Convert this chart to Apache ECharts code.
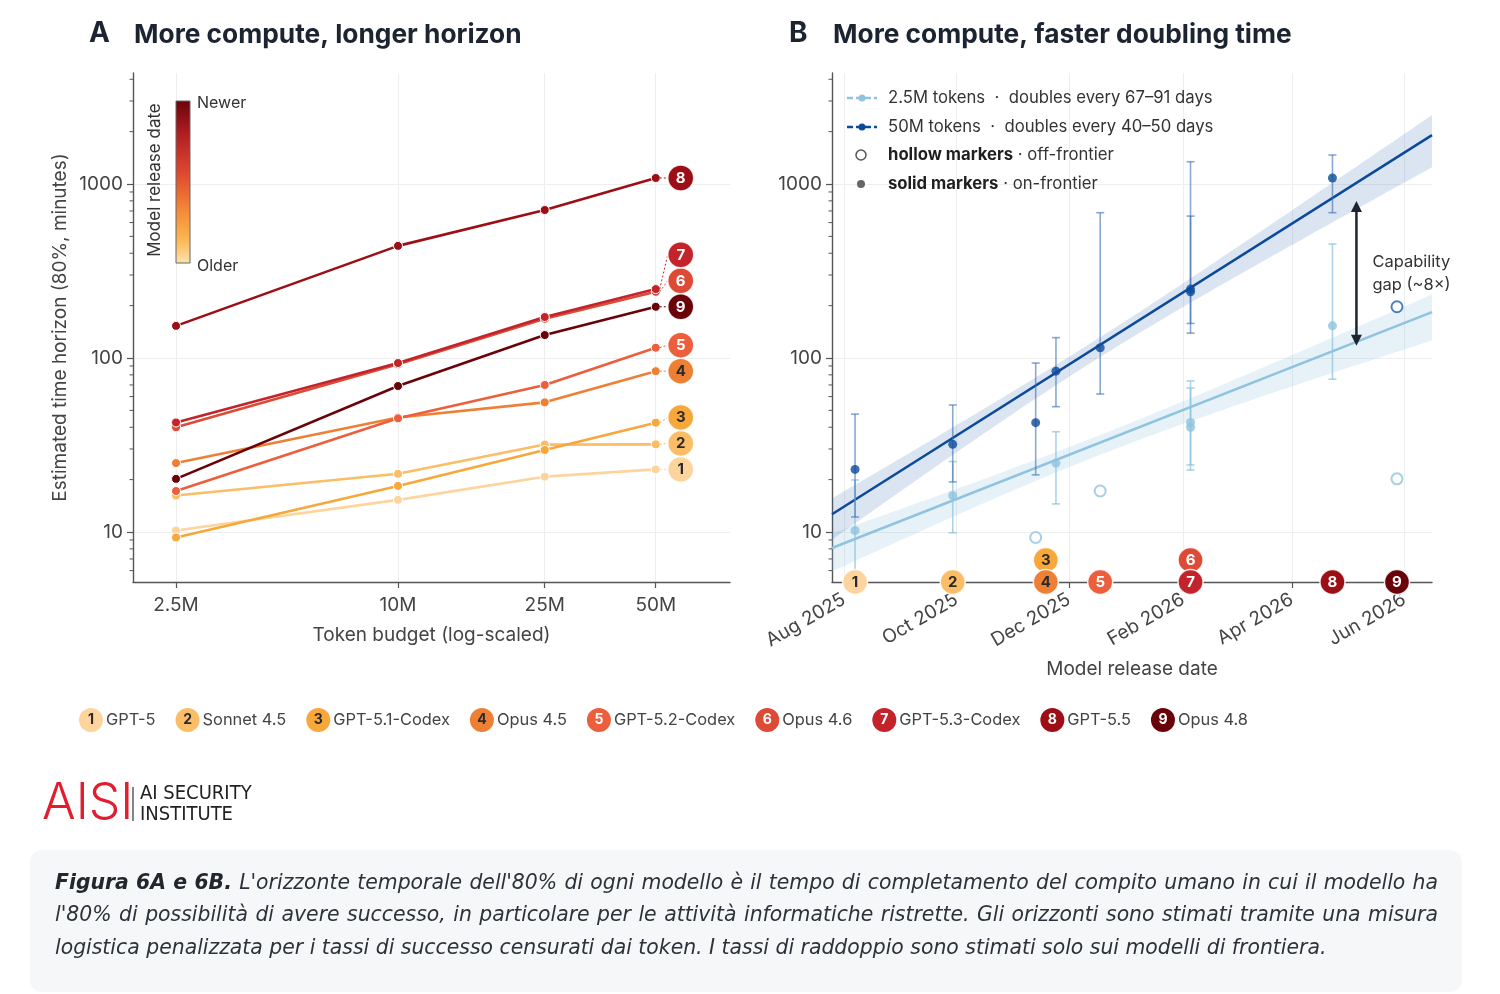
<!DOCTYPE html>
<html>
<head>
<meta charset="utf-8">
<title>AISI Figure 6A/6B</title>
<script src="https://cdn.jsdelivr.net/npm/echarts@6.0.0/dist/echarts.min.js"></script>
<style>
html,body{margin:0;padding:0;background:#ffffff;}
#chart{width:1500px;height:994px;}
</style>
</head>
<body>
<div id="chart"></div>
<script>
// ---------------- DATA ----------------
const modelNames = ['GPT-5','Sonnet 4.5','GPT-5.1-Codex','Opus 4.5','GPT-5.2-Codex','Opus 4.6','GPT-5.3-Codex','GPT-5.5','Opus 4.8'];
const modelReleaseDates = ['2025-08-07','2025-09-29','2025-11-13','2025-11-24','2025-12-18','2026-02-05','2026-02-05','2026-04-23','2026-05-28'];
const tokenBudgets = [2.5e6, 1e7, 2.5e7, 5e7];
const tokenBudgetLabels = ['2.5M','10M','25M','50M'];
// estimated 80% time horizon (minutes) at 2.5M / 10M / 25M / 50M tokens
const horizonGPT5       = [10.2, 15.3, 20.8, 22.9];
const horizonSonnet45   = [16.2, 21.6, 31.8, 31.9];
const horizonGPT51Codex = [9.3, 18.4, 29.6, 42.5];
const horizonOpus45     = [24.9, 45.5, 55.6, 84];
const horizonGPT52Codex = [17.2, 45, 70, 114.6];
const horizonOpus46     = [40, 92, 168, 240];
const horizonGPT53Codex = [42.6, 93.6, 172, 249];
const horizonGPT55      = [153, 441, 709, 1083];
const horizonOpus48     = [20.2, 69, 135.5, 197];
// uncertainty intervals (minutes) for frontier models
const ci50MLow   = [12.2, 19.4, 21.3, 52.5, 62.1, 158, 139, 684, null];
const ci50MHigh  = [47.6, 53.7, 93.6, 131, 684, 654, 1343, 1468, null];
const ci2_5MLow  = [4, 9.9, null, 14.5, null, 22.7, 24.3, 75.5, null];
const ci2_5MHigh = [19.9, 25.4, null, 37.7, null, 67.3, 73.8, 452, null];
const horizonTicks = [10, 100, 1000];
const dateTicks = ['2025-08-01','2025-10-01','2025-12-01','2026-02-01','2026-04-01','2026-06-01'];
const gapArrowDate = '2026-05-06';
const monthNames = ['Jan','Feb','Mar','Apr','May','Jun','Jul','Aug','Sep','Oct','Nov','Dec'];
const captionLines = [
  [['Figura 6A e 6B.', true], ['L\'orizzonte temporale dell\'80% di ogni modello è il tempo di completamento del compito umano in cui il modello ha', false]],
  [['l\'80% di possibilità di avere successo, in particolare per le attività informatiche ristrette. Gli orizzonti sono stimati tramite una misura', false]],
  [['logistica penalizzata per i tassi di successo censurati dai token. I tassi di raddoppio sono stimati solo sui modelli di frontiera.', false]]
];

// ---------------- STYLE ----------------
const FONT = 'Inter, "Noto Sans", "DejaVu Sans", sans-serif';
const modelColors = ['#fdd49e','#fbbd66','#f8a73b','#ee8036','#ec5e3c','#dd4a35','#c3232a','#9d0f16','#6a0309'];
const badgeTextColors = ['#2a2a2a','#2a2a2a','#2a2a2a','#2a2a2a','#ffffff','#ffffff','#ffffff','#ffffff','#ffffff'];
const DARK = '#0b4a9a', DARK_RING = '#2160ad', LIGHT = '#8fc3df';
const AXIS_COLOR = '#555555', GRID_COLOR = '#eeeeee', LABEL_COLOR = '#444444';
const TICK_FS = 19, NAME_FS = 19;

// ---------------- DERIVED ----------------
const horizons = [horizonGPT5, horizonSonnet45, horizonGPT51Codex, horizonOpus45, horizonGPT52Codex,
                  horizonOpus46, horizonGPT53Codex, horizonGPT55, horizonOpus48];
const DAY = 864e5;
const toTs = s => { const p = s.split('-').map(Number); return new Date(p[0], p[1] - 1, p[2]).getTime(); };
const releaseTs = modelReleaseDates.map(toTs);
const dateTickTs = dateTicks.map(toTs);
const Y_MIN = 5.16, Y_MAX = 4345;
const XA_MIN = 1.911e6, XA_MAX = 7.95e7;
const XB_MIN = toTs('2025-07-25') + DAY / 2, XB_MAX = toTs('2026-06-16');

const h2_5M = horizons.map(h => h[0]);
const h50M = horizons.map(h => h[3]);

function onFrontier(vals) {
  return vals.map((v, i) => {
    let m = -Infinity;
    vals.forEach((w, j) => { if (releaseTs[j] < releaseTs[i]) m = Math.max(m, w); });
    return v >= m;
  });
}
const front2_5M = onFrontier(h2_5M), front50M = onFrontier(h50M);

function fitTrend(vals, flags) {
  const xs = [], ys = [];
  vals.forEach((v, i) => { if (flags[i]) { xs.push(releaseTs[i] / DAY); ys.push(Math.log10(v)); } });
  const n = xs.length;
  const mx = xs.reduce((a, b) => a + b, 0) / n, my = ys.reduce((a, b) => a + b, 0) / n;
  let sxx = 0, sxy = 0;
  xs.forEach((x, k) => { sxx += (x - mx) * (x - mx); sxy += (x - mx) * (ys[k] - my); });
  const b = sxy / sxx, a = my - b * mx;
  let ssr = 0;
  xs.forEach((x, k) => { const r = ys[k] - (a + b * x); ssr += r * r; });
  const s = Math.sqrt(ssr / (n - 2));
  return { at: d => a + b * d, se: d => s * Math.sqrt(1 / n + (d - mx) * (d - mx) / sxx) };
}
const fit50M = fitTrend(h50M, front50M), fit2_5M = fitTrend(h2_5M, front2_5M);

const minorTicks = [];
for (let e = 0; e <= 3; e++) for (let m = 2; m <= 9; m++) {
  const v = m * Math.pow(10, e);
  if (v > Y_MIN && v < Y_MAX) minorTicks.push(v);
}

// ---------------- AXES ----------------
function yAxisLog(gridIndex, withName) {
  const ax = {
    type: 'log', logBase: 10, gridIndex, min: Y_MIN, max: Y_MAX,
    axisLine: { show: true, lineStyle: { color: AXIS_COLOR, width: 1.4 } },
    axisTick: { show: true, customValues: horizonTicks, length: 6, lineStyle: { color: AXIS_COLOR, width: 1.2 } },
    axisLabel: { customValues: horizonTicks, fontSize: TICK_FS, color: LABEL_COLOR, margin: 10, fontFamily: FONT,
                 formatter: v => String(Math.round(v)) },
    splitLine: { show: true, lineStyle: { color: GRID_COLOR, width: 1 } },
    minorTick: { show: false }, minorSplitLine: { show: false }
  };
  if (withName) {
    Object.assign(ax, { name: 'Estimated time horizon (80%, minutes)', nameLocation: 'middle', nameGap: 63,
      nameRotate: 90, nameTextStyle: { fontSize: NAME_FS, color: LABEL_COLOR, fontFamily: FONT } });
  }
  return ax;
}
const xAxisA = {
  type: 'log', logBase: 10, gridIndex: 0, min: XA_MIN, max: XA_MAX,
  axisLine: { show: true, onZero: false, lineStyle: { color: AXIS_COLOR, width: 1.4 } },
  axisTick: { show: true, customValues: tokenBudgets, length: 6, lineStyle: { color: AXIS_COLOR, width: 1.2 } },
  axisLabel: { customValues: tokenBudgets, fontSize: TICK_FS, color: LABEL_COLOR, margin: 14, fontFamily: FONT,
    formatter: v => { const k = tokenBudgets.findIndex(b => Math.abs(b - v) / b < 1e-6); return k >= 0 ? tokenBudgetLabels[k] : ''; } },
  splitLine: { show: true, lineStyle: { color: GRID_COLOR, width: 1 } },
  name: 'Token budget (log-scaled)', nameLocation: 'middle', nameGap: 44,
  nameTextStyle: { fontSize: NAME_FS, color: LABEL_COLOR, fontFamily: FONT }
};
// release date axis: a linear value axis over timestamps (ms)
const xAxisB = {
  type: 'value', gridIndex: 1, min: XB_MIN, max: XB_MAX, scale: true,
  axisLine: { show: true, onZero: false, lineStyle: { color: AXIS_COLOR, width: 1.4 } },
  axisTick: { show: true, customValues: dateTickTs, length: 6, lineStyle: { color: AXIS_COLOR, width: 1.2 } },
  axisLabel: { customValues: dateTickTs, rotate: 30, fontSize: TICK_FS, color: LABEL_COLOR, margin: 16, fontFamily: FONT,
    hideOverlap: false,
    formatter: v => { const d = new Date(v); return monthNames[d.getMonth()] + ' ' + d.getFullYear(); } },
  splitLine: { show: true, lineStyle: { color: GRID_COLOR, width: 1 } },
  name: 'Model release date', nameLocation: 'middle', nameGap: 78,
  nameTextStyle: { fontSize: NAME_FS, color: LABEL_COLOR, fontFamily: FONT }
};

// ---------------- SERIES ----------------
const series = [];

function minorTickSeries(xi, yi, xRef) {
  return { type: 'custom', xAxisIndex: xi, yAxisIndex: yi, silent: true, clip: false, z: 5,
    data: minorTicks.map(v => [xRef, v]),
    renderItem: (params, api) => {
      const cs = params.coordSys;
      const y = api.coord([api.value(0), api.value(1)])[1];
      return { type: 'line', shape: { x1: cs.x - 3.5, y1: y, x2: cs.x, y2: y }, style: { stroke: AXIS_COLOR, lineWidth: 1 } };
    } };
}
series.push(minorTickSeries(0, 0, 1e7));
series.push(minorTickSeries(1, 1, releaseTs[0]));

// Panel A lines
horizons.forEach((h, i) => {
  series.push({
    type: 'line', name: modelNames[i], xAxisIndex: 0, yAxisIndex: 0,
    data: tokenBudgets.map((b, j) => [b, h[j]]),
    symbol: 'circle', symbolSize: 9, showSymbol: true, silent: true, z: 3,
    lineStyle: { color: modelColors[i], width: 2.6 },
    itemStyle: { color: modelColors[i], borderColor: '#ffffff', borderWidth: 1 },
    emphasis: { disabled: true }
  });
});

// Panel A numbered badges (decluttered vertically)
series.push({
  type: 'custom', xAxisIndex: 0, yAxisIndex: 0, clip: false, silent: true, z: 10,
  data: h50M.map((v, i) => [tokenBudgets[3], v, i]),
  renderItem: (params, api) => {
    const i = api.value(2);
    const pts = h50M.map(v => api.coord([tokenBudgets[3], v]));
    const order = pts.map((p, k) => k).sort((a, b) => pts[b][1] - pts[a][1]);
    const ys = []; let prev = Infinity;
    order.forEach(k => { let y = pts[k][1]; if (y > prev - 26) y = prev - 26; ys[k] = y; prev = y; });
    const px = pts[i][0], py = pts[i][1], bx = px + 25, by = ys[i];
    return { type: 'group', children: [
      { type: 'line', shape: { x1: px + 4, y1: py, x2: bx - 13, y2: by }, style: { stroke: modelColors[i], lineWidth: 1, lineDash: [2, 2] } },
      { type: 'circle', shape: { cx: bx, cy: by, r: 13 }, style: { fill: modelColors[i], stroke: 'rgba(255,255,255,0.85)', lineWidth: 1.5 } },
      { type: 'text', style: { text: String(i + 1), x: bx, y: by + 0.5, align: 'center', verticalAlign: 'middle',
          textAlign: 'center', textVerticalAlign: 'middle', fill: badgeTextColors[i], font: 'bold 15px ' + FONT } }
    ] };
  }
});

// Panel B confidence bands
function bandSeries(fit, color) {
  return { type: 'custom', xAxisIndex: 1, yAxisIndex: 1, silent: true, clip: false, z: 1,
    data: [[XB_MIN, 10]],
    renderItem: (params, api) => {
      const cs = params.coordSys, N = 80, up = [], lo = [];
      for (let k = 0; k <= N; k++) {
        const t = XB_MIN + (XB_MAX - XB_MIN) * k / N, d = t / DAY;
        const c = fit.at(d), se = fit.se(d);
        const pu = api.coord([t, Math.pow(10, c + 1.0 * se)]);
        const pl = api.coord([t, Math.pow(10, c - 1.6 * se)]);
        pu[1] = Math.max(cs.y, Math.min(cs.y + cs.height, pu[1]));
        pl[1] = Math.max(cs.y, Math.min(cs.y + cs.height, pl[1]));
        up.push(pu); lo.unshift(pl);
      }
      return { type: 'polygon', shape: { points: up.concat(lo) }, style: { fill: color } };
    } };
}
series.push(bandSeries(fit2_5M, 'rgba(143,195,223,0.22)'));
series.push(bandSeries(fit50M, 'rgba(40,95,170,0.17)'));

// Panel B trend lines
function trendSeries(fit, color) {
  return { type: 'line', xAxisIndex: 1, yAxisIndex: 1, symbol: 'none', silent: true, z: 2,
    data: [[XB_MIN, Math.pow(10, fit.at(XB_MIN / DAY))], [XB_MAX, Math.pow(10, fit.at(XB_MAX / DAY))]],
    lineStyle: { color, width: 2.5 }, emphasis: { disabled: true } };
}
series.push(trendSeries(fit2_5M, LIGHT));
series.push(trendSeries(fit50M, DARK));

// Panel B error bars
function errorBarSeries(lows, highs, flags, color) {
  const data = [];
  lows.forEach((l, i) => { if (flags[i] && l != null) data.push([releaseTs[i], l, highs[i]]); });
  return { type: 'custom', xAxisIndex: 1, yAxisIndex: 1, silent: true, clip: false, z: 3, data,
    renderItem: (params, api) => {
      const cs = params.coordSys, t = api.value(0);
      const pLo = api.coord([t, api.value(1)]), pHi = api.coord([t, api.value(2)]);
      const x = pLo[0], bottom = cs.y + cs.height, top = cs.y;
      const yLo = Math.min(pLo[1], bottom), yHi = Math.max(pHi[1], top);
      const st = { stroke: color, lineWidth: 1.6 };
      const ch = [{ type: 'line', shape: { x1: x, y1: yLo, x2: x, y2: yHi }, style: st }];
      if (pHi[1] >= top) ch.push({ type: 'line', shape: { x1: x - 4, y1: yHi, x2: x + 4, y2: yHi }, style: st });
      if (pLo[1] <= bottom) ch.push({ type: 'line', shape: { x1: x - 4, y1: yLo, x2: x + 4, y2: yLo }, style: st });
      return { type: 'group', children: ch };
    } };
}
series.push(errorBarSeries(ci2_5MLow, ci2_5MHigh, front2_5M, 'rgba(143,195,223,0.75)'));
series.push(errorBarSeries(ci50MLow, ci50MHigh, front50M, 'rgba(60,110,180,0.6)'));

// Panel B points
function pointSeries(vals, flags, solid, color, ring) {
  const data = [];
  vals.forEach((v, i) => { if (flags[i] === solid) data.push([releaseTs[i], v]); });
  return { type: 'scatter', xAxisIndex: 1, yAxisIndex: 1, data, symbol: 'circle', silent: true, z: 4,
    symbolSize: solid ? 9 : 11,
    itemStyle: solid ? { color } : { color: '#ffffff', borderColor: ring, borderWidth: 2 },
    emphasis: { disabled: true } };
}
series.push(pointSeries(h2_5M, front2_5M, true, LIGHT));
series.push(pointSeries(h2_5M, front2_5M, false, LIGHT, LIGHT));
series.push(pointSeries(h50M, front50M, true, DARK));
series.push(pointSeries(h50M, front50M, false, DARK, DARK_RING));

// Capability gap arrow
series.push({
  type: 'custom', xAxisIndex: 1, yAxisIndex: 1, silent: true, clip: false, z: 6,
  data: [[toTs(gapArrowDate), 100]],
  renderItem: (params, api) => {
    const t = api.value(0), d = t / DAY;
    const x = api.coord([t, 100])[0];
    const yTop = api.coord([t, Math.pow(10, fit50M.at(d))])[1] + 18;
    const yBot = api.coord([t, Math.pow(10, fit2_5M.at(d))])[1] + 4;
    const ratio = Math.round(Math.pow(10, fit50M.at(d) - fit2_5M.at(d)));
    const col = '#1d2330';
    return { type: 'group', children: [
      { type: 'line', shape: { x1: x, y1: yTop + 8, x2: x, y2: yBot - 8 }, style: { stroke: col, lineWidth: 2.5 } },
      { type: 'polygon', shape: { points: [[x, yTop], [x - 5.5, yTop + 11], [x + 5.5, yTop + 11]] }, style: { fill: col } },
      { type: 'polygon', shape: { points: [[x, yBot], [x - 5.5, yBot - 11], [x + 5.5, yBot - 11]] }, style: { fill: col } },
      { type: 'text', style: { text: 'Capability\ngap (~' + ratio + '×)', x: x + 16, y: (yTop + yBot) / 2,
          align: 'left', verticalAlign: 'middle', textAlign: 'left', textVerticalAlign: 'middle',
          fill: '#333333', font: '16.5px ' + FONT, lineHeight: 23 } }
    ] };
  }
});

// Panel B release-date badges on the date axis
series.push({
  type: 'custom', xAxisIndex: 1, yAxisIndex: 1, clip: false, silent: true, z: 10,
  data: releaseTs.map((t, i) => [t, 10, i]),
  renderItem: (params, api) => {
    const cs = params.coordSys, i = api.value(2);
    const px = releaseTs.map(t => api.coord([t, 10])[0]);
    const order = px.map((p, k) => k).sort((a, b) => px[a] - px[b] || a - b);
    const groups = [];
    order.forEach(k => {
      const g = groups[groups.length - 1];
      if (g && px[k] - px[g[g.length - 1]] < 24) g.push(k); else groups.push([k]);
    });
    let bx = px[i], row = 0;
    groups.forEach(g => {
      if (g.indexOf(i) >= 0) {
        bx = g.reduce((s, k) => s + px[k], 0) / g.length;
        const sorted = g.slice().sort((a, b) => b - a);
        row = sorted.indexOf(i);
      }
    });
    const by = cs.y + cs.height - row * 22;
    return { type: 'group', children: [
      { type: 'circle', shape: { cx: bx, cy: by, r: 12.5 }, style: { fill: modelColors[i], stroke: 'rgba(255,255,255,0.85)', lineWidth: 1.5 } },
      { type: 'text', style: { text: String(i + 1), x: bx, y: by + 0.5, align: 'center', verticalAlign: 'middle',
          textAlign: 'center', textVerticalAlign: 'middle', fill: badgeTextColors[i], font: 'bold 15px ' + FONT } }
    ] };
  }
});

// ---------------- GRAPHICS (titles, legends, logo, caption) ----------------
const g = [];
const txt = (x, y, text, font, fill, extra) => Object.assign({ type: 'text', x, y, z: 100, silent: true,
  style: Object.assign({ text, font, fill, align: 'left', verticalAlign: 'middle', textAlign: 'left', textVerticalAlign: 'middle' }, extra || {}) });

g.push(txt(89, 34, 'A', 'bold 28px ' + FONT, '#1b2430'));
g.push(txt(134, 35, 'More compute, longer horizon', 'bold 26.3px ' + FONT, '#1b2430'));
g.push(txt(789, 34, 'B', 'bold 28px ' + FONT, '#1b2430'));
g.push(txt(833, 35, 'More compute, faster doubling time', 'bold 26.3px ' + FONT, '#1b2430'));

// colour bar (model release date)
g.push({ type: 'rect', silent: true, z: 100, shape: { x: 176, y: 101, width: 14, height: 162 },
  style: { fill: new echarts.graphic.LinearGradient(0, 0, 0, 1, [
    { offset: 0, color: '#6a0309' }, { offset: 0.2, color: '#b01d22' }, { offset: 0.45, color: '#e0492f' },
    { offset: 0.68, color: '#f58a38' }, { offset: 0.85, color: '#fbb650' }, { offset: 1, color: '#fde3ad' }]),
    stroke: '#666666', lineWidth: 1 } });
g.push(txt(197, 103, 'Newer', '16px ' + FONT, '#333333'));
g.push(txt(197, 266, 'Older', '16px ' + FONT, '#333333'));
g.push({ type: 'text', x: 155, y: 180, z: 100, rotation: Math.PI / 2, silent: true,
  style: { text: 'Model release date', font: '17px ' + FONT, fill: '#333333', align: 'center', verticalAlign: 'middle',
           textAlign: 'center', textVerticalAlign: 'middle' } });

// panel B legend
[[98, LIGHT, '2.5M tokens  ·  doubles every 67–91 days'], [127, DARK, '50M tokens  ·  doubles every 40–50 days']].forEach(r => {
  g.push({ type: 'line', silent: true, z: 100, shape: { x1: 847, y1: r[0], x2: 877, y2: r[0] }, style: { stroke: r[1], lineWidth: 2.5, lineDash: [6, 3] } });
  g.push({ type: 'circle', silent: true, z: 100, shape: { cx: 862, cy: r[0], r: 3.5 }, style: { fill: r[1] } });
  g.push(txt(888, r[0], r[2], '16.7px ' + FONT, '#333333'));
});
g.push({ type: 'circle', silent: true, z: 100, shape: { cx: 861, cy: 155, r: 5 }, style: { fill: '#ffffff', stroke: '#555555', lineWidth: 1.5 } });
g.push({ type: 'circle', silent: true, z: 100, shape: { cx: 861, cy: 184, r: 4 }, style: { fill: '#666666' } });
const legRich = {
  b: { fontSize: 16.7, fontWeight: 'bold', fontFamily: FONT, fill: '#1f1f1f', color: '#1f1f1f' },
  n: { fontSize: 16.7, fontFamily: FONT, fill: '#333333', color: '#333333' }
};
g.push(txt(888, 155, '{b|hollow markers}{n| · off-frontier}', '16.7px ' + FONT, '#333333', { rich: legRich }));
g.push(txt(888, 184, '{b|solid markers}{n| · on-frontier}', '16.7px ' + FONT, '#333333', { rich: legRich }));

// bottom model legend
const botRich = {
  t: { fontSize: 16.4, fontFamily: FONT, fill: '#444444', color: '#444444', padding: [0, 0, 0, 3] },
  s: { width: 20 }
};
modelNames.forEach((n, i) => {
  botRich['c' + i] = { width: 24, height: 24, lineHeight: 24, borderRadius: 12, backgroundColor: modelColors[i],
    fill: badgeTextColors[i], color: badgeTextColors[i], align: 'center', verticalAlign: 'middle',
    fontSize: 14, fontWeight: 'bold', fontFamily: FONT, borderColor: 'rgba(255,255,255,0.7)', borderWidth: 1 };
});
const botText = modelNames.map((n, i) => '{c' + i + '|' + (i + 1) + '}{t|' + n + '}').join('{s| }');
g.push(txt(79, 720, botText, '16.4px ' + FONT, '#444444', { rich: botRich }));

// logo
g.push(txt(42, 804, 'AISI', '300 50px ' + FONT, '#e11d2e'));
g.push({ type: 'line', silent: true, z: 100, shape: { x1: 133, y1: 787, x2: 133, y2: 821 }, style: { stroke: '#333333', lineWidth: 1.2 } });
g.push(txt(140, 794, 'AI SECURITY', '20px "Liberation Sans Narrow", "DejaVu Sans Condensed", sans-serif', '#222222'));
g.push(txt(140, 815, 'INSTITUTE', '20px "Liberation Sans Narrow", "DejaVu Sans Condensed", sans-serif', '#222222'));

// caption box + justified italic caption text
g.push({ type: 'rect', silent: true, z: 99, shape: { x: 30, y: 850, width: 1432, height: 142, r: 12 }, style: { fill: '#f6f7f9' } });
const CAP_FAMILY = '"DejaVu Sans", "Noto Sans", sans-serif';
const mctx = document.createElement('canvas').getContext('2d');
const capFont = (size, bold) => 'italic ' + (bold ? 'bold ' : '') + size.toFixed(2) + 'px ' + CAP_FAMILY;
const measure = (text, font) => { mctx.font = font; return mctx.measureText(text).width; };
const lastLine = captionLines[2].map(p => p[0]).join(' ');
let capSize = 19 * 1272 / measure(lastLine, capFont(19, false));
capSize = Math.max(16, Math.min(22, capSize));
const CAP_X = 55, CAP_W = 1383, capY = [884, 916, 949];
captionLines.forEach((parts, li) => {
  const words = [];
  parts.forEach(p => p[0].split(' ').forEach(w => words.push([w, p[1]])));
  const widths = words.map(w => measure(w[0], capFont(capSize, w[1])));
  const total = widths.reduce((a, b) => a + b, 0);
  const spaceW = measure(' ', capFont(capSize, false));
  const gap = li < 2 ? (CAP_W - total) / (words.length - 1) : spaceW;
  let x = CAP_X;
  words.forEach((w, k) => {
    g.push(txt(x, capY[li], w[0], capFont(capSize, w[1]), w[1] ? '#22262d' : '#2d323a'));
    x += widths[k] + gap;
  });
});

// ---------------- OPTION ----------------
const option = {
  animation: false,
  backgroundColor: '#ffffff',
  textStyle: { fontFamily: FONT },
  grid: [
    { left: 133, top: 73, width: 597, height: 509, containLabel: false, outerBoundsMode: 'none' },
    { left: 832, top: 73, width: 600, height: 509, containLabel: false, outerBoundsMode: 'none' }
  ],
  xAxis: [xAxisA, xAxisB],
  yAxis: [yAxisLog(0, true), yAxisLog(1, false)],
  series,
  graphic: { elements: g }
};
const chart = echarts.init(document.getElementById('chart'), null, { renderer: 'canvas', width: 1500, height: 994 });
chart.setOption(option);
</script>
</body>
</html>
